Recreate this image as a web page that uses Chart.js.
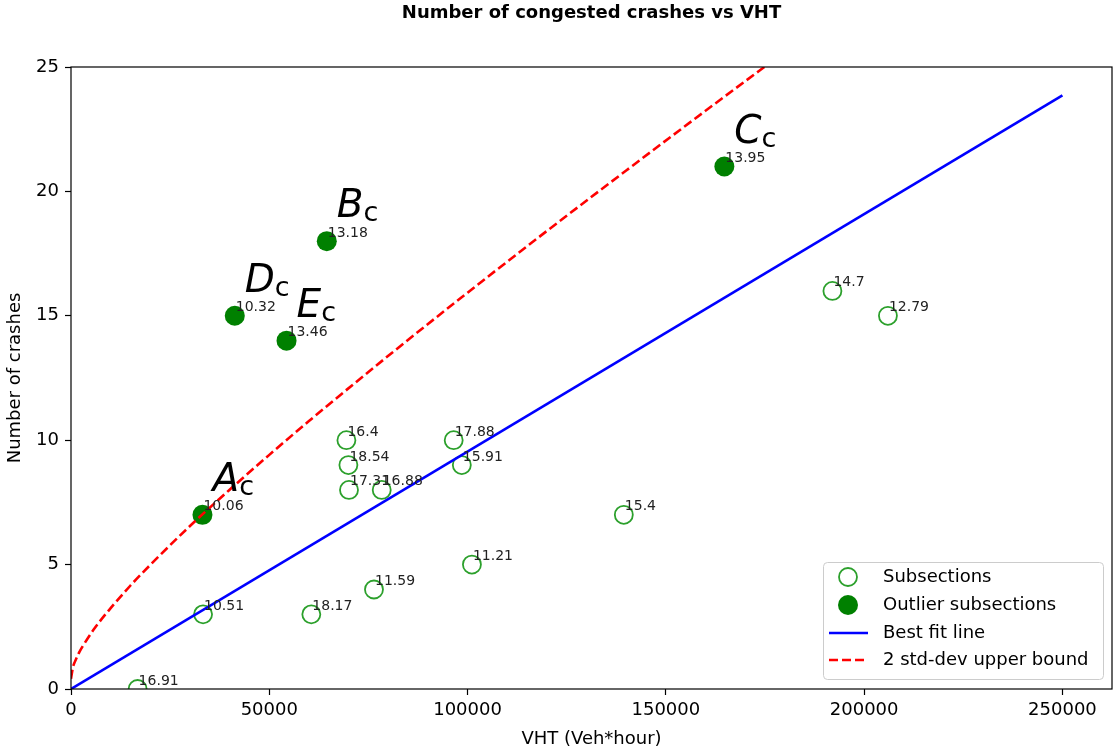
<!DOCTYPE html>
<html>
<head>
<meta charset="utf-8">
<title>Number of congested crashes vs VHT</title>
<script src="https://cdn.jsdelivr.net/npm/chart.js@4.4.1/dist/chart.umd.min.js"></script>
<style>
  html, body { margin: 0; padding: 0; background: #fff; }
  #wrap { width: 1114px; height: 751px; }
</style>
</head>
<body>
<div id="wrap"><canvas id="crashChart" width="1114" height="751"></canvas></div>
<script>
// Subsections (hollow markers) with their labels
const subVht = [16800, 33300, 60600, 76400, 101100, 69450, 69950, 70100, 78350, 96500, 98550, 139400, 192000, 206000];
const subCrashes = [0, 3, 3, 4, 5, 10, 9, 8, 8, 10, 9, 7, 16, 15];
const subLabels = ['16.91', '10.51', '18.17', '11.59', '11.21', '16.4', '18.54', '17.31', '16.88', '17.88', '15.91', '15.4', '14.7', '12.79'];

// Outlier subsections (filled markers)
const outVht = [33150, 41300, 54350, 64500, 164750];
const outCrashes = [7, 15, 14, 18, 21];
const outLabels = ['10.06', '10.32', '13.46', '13.18', '13.95'];
const outNames = ['A', 'D', 'E', 'B', 'C'];

// Best fit line
const fitVht = [0, 250000];
const fitCrashes = [0, 23.86];

// 2 std-dev upper bound
const boundVht = [0, 500, 1000, 2000, 3000, 6000, 10000, 15000, 20000, 30000, 40000, 50000, 60000, 80000, 100000, 120000, 140000, 160000, 180000];
const boundCrashes = [0.41, 0.88, 1.10, 1.45, 1.73, 2.45, 3.25, 4.16, 4.99, 6.55, 8.01, 9.41, 10.77, 13.39, 15.93, 18.41, 20.84, 23.24, 25.61];

const xTicks = [0, 50000, 100000, 150000, 200000, 250000];
const yTicks = [0, 5, 10, 15, 20, 25];

const FONT = "'DejaVu Sans', sans-serif";
Chart.defaults.font.family = FONT;
Chart.defaults.color = '#000';

const toPoints = (xs, ys) => xs.map((x, i) => ({ x: x, y: ys[i] }));

// full box around the axes, like matplotlib spines
const framePlugin = {
  id: 'frame',
  afterDraw(chart) {
    const { ctx, chartArea: a } = chart;
    ctx.save();
    ctx.strokeStyle = '#000';
    ctx.lineWidth = 1.2;
    ctx.strokeRect(a.left, a.top, a.right - a.left, a.bottom - a.top);
    ctx.restore();
  }
};

const titlePlugin = {
  id: 'plotTitle',
  afterDraw(chart) {
    const { ctx, chartArea: a } = chart;
    ctx.save();
    ctx.font = `bold 18px ${FONT}`;
    ctx.fillStyle = '#000';
    ctx.textAlign = 'center';
    ctx.textBaseline = 'middle';
    ctx.fillText('Number of congested crashes vs VHT', (a.left + a.right) / 2, 13);
    ctx.restore();
  }
};

// value labels next to each marker + big letter names for the outliers
const labelPlugin = {
  id: 'pointLabels',
  afterDatasetsDraw(chart) {
    const { ctx } = chart;
    const x = chart.scales.x, y = chart.scales.y;
    ctx.save();
    ctx.textAlign = 'left';
    ctx.textBaseline = 'alphabetic';
    ctx.fillStyle = '#222';
    ctx.font = `14px ${FONT}`;
    const put = (vx, vy, txt) => {
      ctx.fillText(txt, x.getPixelForValue(vx) + 1, y.getPixelForValue(vy) - 4.5);
    };
    subVht.forEach((v, i) => put(v, subCrashes[i], subLabels[i]));
    outVht.forEach((v, i) => put(v, outCrashes[i], outLabels[i]));

    ctx.fillStyle = '#000';
    outVht.forEach((v, i) => {
      const px = x.getPixelForValue(v) + 10;
      const py = y.getPixelForValue(outCrashes[i]) - 24;
      ctx.font = `italic 39px ${FONT}`;
      ctx.fillText(outNames[i], px, py);
      const w = ctx.measureText(outNames[i]).width;
      ctx.font = `27px ${FONT}`;
      ctx.fillText('c', px + w, py + 4);
    });
    ctx.restore();
  }
};

// legend box in the lower right corner of the axes
const legendPlugin = {
  id: 'cornerLegend',
  afterDraw(chart) {
    const { ctx, chartArea: a } = chart;
    const ds = chart.data.datasets;
    const w = 280, h = 117;
    const left = a.right - 9 - w;
    const top = a.bottom - 10 - h;
    ctx.save();
    ctx.fillStyle = 'rgba(255,255,255,0.8)';
    ctx.strokeStyle = '#cccccc';
    ctx.lineWidth = 1;
    ctx.beginPath();
    ctx.roundRect(left + 0.5, top + 0.5, w, h, 4);
    ctx.fill();
    ctx.stroke();

    const rowY = [15, 43, 71, 98];
    ds.forEach((d, i) => {
      const cy = top + rowY[i];
      const cx = left + 25;
      if (d.showLine) {
        ctx.beginPath();
        ctx.strokeStyle = d.borderColor;
        ctx.lineWidth = d.borderWidth;
        ctx.setLineDash(d.borderDash || []);
        ctx.moveTo(left + 6, cy);
        ctx.lineTo(left + 45, cy);
        ctx.stroke();
        ctx.setLineDash([]);
      } else {
        ctx.beginPath();
        ctx.arc(cx, cy, d.pointRadius, 0, Math.PI * 2);
        if (d.pointBorderWidth > 0) {
          ctx.strokeStyle = d.pointBorderColor;
          ctx.lineWidth = d.pointBorderWidth;
          ctx.stroke();
        } else {
          ctx.fillStyle = d.pointBackgroundColor;
          ctx.fill();
        }
      }
      ctx.fillStyle = '#000';
      ctx.font = `18px ${FONT}`;
      ctx.textAlign = 'left';
      ctx.textBaseline = 'middle';
      ctx.fillText(d.label, left + 60, cy);
    });
    ctx.restore();
  }
};

const ctx = document.getElementById('crashChart').getContext('2d');
const crashChart = new Chart(ctx, {
  type: 'scatter',
  data: {
    datasets: [
      {
        label: 'Subsections',
        data: toPoints(subVht, subCrashes),
        pointRadius: 9,
        pointBorderWidth: 1.8,
        pointBorderColor: '#2ca02c',
        pointBackgroundColor: 'rgba(0,0,0,0)',
        borderColor: '#2ca02c',
        order: 4
      },
      {
        label: 'Outlier subsections',
        data: toPoints(outVht, outCrashes),
        pointRadius: 10,
        pointBorderWidth: 0,
        pointBackgroundColor: '#008000',
        backgroundColor: '#008000',
        order: 3
      },
      {
        label: 'Best fit line',
        data: toPoints(fitVht, fitCrashes),
        showLine: true,
        borderColor: '#0000ff',
        borderWidth: 2.6,
        pointRadius: 0,
        order: 2
      },
      {
        label: '2 std-dev upper bound',
        data: toPoints(boundVht, boundCrashes),
        showLine: true,
        borderColor: '#ff0000',
        borderWidth: 2.6,
        borderDash: [9, 4],
        cubicInterpolationMode: 'monotone',
        pointRadius: 0,
        order: 1
      }
    ]
  },
  options: {
    responsive: false,
    animation: false,
    events: [],
    layout: { autoPadding: false, padding: { top: 67, right: 2, left: 0, bottom: 0 } },
    plugins: {
      legend: { display: false },
      tooltip: { enabled: false },
      title: { display: false }
    },
    scales: {
      x: {
        type: 'linear',
        min: 0,
        max: 262500,
        afterBuildTicks: (s) => { s.ticks = xTicks.map(v => ({ value: v })); },
        afterFit: (s) => { s.height = 62; s.paddingLeft = 0; s.paddingRight = 0; },
        ticks: {
          font: { size: 18 },
          color: '#000',
          padding: 5,
          maxRotation: 0,
          autoSkip: false,
          callback: (v) => String(v)
        },
        grid: { display: true, drawOnChartArea: false, drawTicks: true, tickLength: 6, tickWidth: 1.2, tickColor: '#000' },
        border: { display: false },
        title: {
          display: true,
          text: 'VHT (Veh*hour)',
          font: { size: 18, lineHeight: 1.2 },
          color: '#000',
          padding: { top: 0, bottom: 1 }
        }
      },
      y: {
        type: 'linear',
        min: 0,
        max: 25,
        afterBuildTicks: (s) => { s.ticks = yTicks.map(v => ({ value: v })); },
        afterFit: (s) => { s.width = 71; s.paddingTop = 0; s.paddingBottom = 0; },
        ticks: {
          font: { size: 18 },
          color: '#000',
          padding: 6,
          autoSkip: false,
          callback: (v) => String(v)
        },
        grid: { display: true, drawOnChartArea: false, drawTicks: true, tickLength: 6, tickWidth: 1.2, tickColor: '#000' },
        border: { display: false },
        title: {
          display: true,
          text: 'Number of crashes',
          font: { size: 18, lineHeight: 1.2 },
          color: '#000',
          padding: { top: 5, bottom: 0 }
        }
      }
    }
  },
  plugins: [framePlugin, labelPlugin, legendPlugin, titlePlugin]
});
</script>
</body>
</html>
